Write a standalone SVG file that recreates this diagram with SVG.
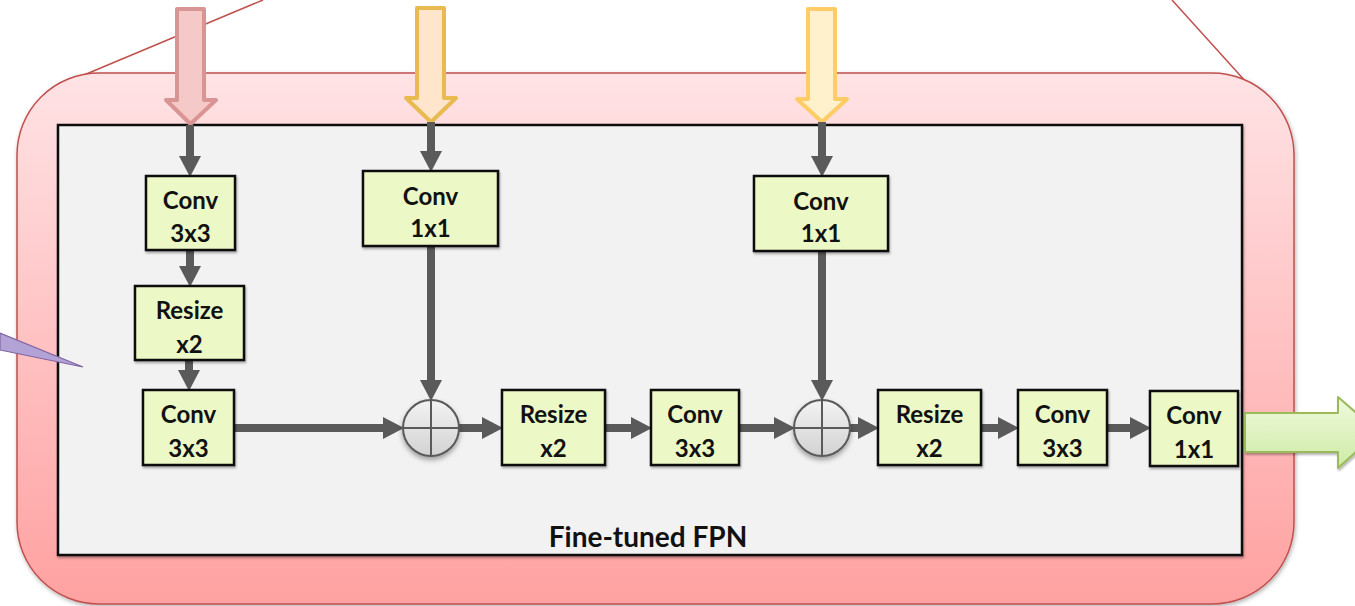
<svg xmlns="http://www.w3.org/2000/svg" width="1355" height="606" viewBox="0 0 1355 606">
<defs>
<style>
.box{fill:#ECF8C6;stroke:#111;stroke-width:2.5;filter:url(#sh)}
.lbl{font-family:Lato,"Open Sans","Liberation Sans",sans-serif;font-weight:bold;font-size:24px;fill:#111;text-anchor:middle}
.con{stroke:#5A5A5A;stroke-width:8;fill:none;marker-end:url(#ah)}
.sum{fill:url(#gsum);stroke:#5A5A5A;stroke-width:2;filter:url(#sh2)}
.cross{stroke:#5A5A5A;stroke-width:2}
</style>
<linearGradient id="gpink" x1="0" y1="0" x2="0" y2="1">
<stop offset="0" stop-color="#FFE3E5"/>
<stop offset="1" stop-color="#FFA1A1"/>
</linearGradient>
<linearGradient id="gsum" x1="0" y1="0" x2="0" y2="1">
<stop offset="0" stop-color="#F3F3F3"/>
<stop offset="1" stop-color="#D2D2D2"/>
</linearGradient>
<linearGradient id="ggreen" x1="0" y1="0" x2="0" y2="1">
<stop offset="0" stop-color="#F0FADD"/>
<stop offset="1" stop-color="#CDEBA6"/>
</linearGradient>
<filter id="sh" x="-10%" y="-10%" width="130%" height="130%">
<feDropShadow dx="1" dy="2" stdDeviation="1.2" flood-color="#000" flood-opacity="0.3"/>
</filter>
<filter id="sh2" x="-30%" y="-30%" width="160%" height="170%">
<feDropShadow dx="0" dy="3" stdDeviation="2.5" flood-color="#000" flood-opacity="0.35"/>
</filter>
<filter id="sh3" x="-5%" y="-5%" width="110%" height="110%">
<feDropShadow dx="1" dy="2" stdDeviation="2" flood-color="#000" flood-opacity="0.3"/>
</filter>
<marker id="ah" markerUnits="userSpaceOnUse" markerWidth="22" markerHeight="24" refX="10" refY="12" orient="auto">
<path d="M0,1 L21,12 L0,23 z" fill="#5A5A5A"/>
</marker>
</defs>

<g id="callout-lines">
<line x1="72" y1="80" x2="263" y2="0" stroke="#C0504D" stroke-width="1.5"/>
<line x1="1172" y1="0" x2="1247" y2="83" stroke="#C0504D" stroke-width="1.5"/>
</g>

<g id="outer">
<rect x="17" y="73" width="1277" height="531" rx="82" ry="82" fill="url(#gpink)" stroke="#C0504D" stroke-width="1.5" filter="url(#sh3)"/>
</g>

<g id="fpn-frame">
<rect x="58" y="125" width="1184" height="430" fill="#F2F2F2" stroke="#111" stroke-width="2.5" filter="url(#sh)"/>
<text class="lbl" x="648" y="547" style="font-size:28px">Fine-tuned FPN</text>
</g>

<g id="inputs">
<path d="M177,9 H204 V100 H216 L190.5,124 L166,100 H177 Z" fill="#F6C9C9" stroke="#D99594" stroke-width="4" stroke-linejoin="round"/>
<path d="M417,8 H444 V98 H456 L431,122 L406,98 H417 Z" fill="#FFE5CC" stroke="#E9BA50" stroke-width="4" stroke-linejoin="round"/>
<path d="M808,9 H835 V99 H847 L822,122 L797,99 H808 Z" fill="#FFF1CC" stroke="#FFCC66" stroke-width="4" stroke-linejoin="round"/>
</g>

<g id="connectors">
<line class="con" x1="190" y1="125" x2="190" y2="166"/>
<line class="con" x1="190" y1="250" x2="190" y2="276"/>
<line class="con" x1="189" y1="360" x2="189" y2="380"/>
<line class="con" x1="234" y1="428" x2="393" y2="428"/>
<line class="con" x1="431" y1="122" x2="431" y2="161"/>
<line class="con" x1="431" y1="246" x2="431" y2="390"/>
<line class="con" x1="459" y1="428" x2="492" y2="428"/>
<line class="con" x1="605" y1="428" x2="641" y2="428"/>
<line class="con" x1="739" y1="428" x2="784" y2="428"/>
<line class="con" x1="822" y1="122" x2="822" y2="166"/>
<line class="con" x1="822" y1="251" x2="822" y2="390"/>
<line class="con" x1="850" y1="428" x2="868" y2="428"/>
<line class="con" x1="981" y1="428" x2="1008" y2="428"/>
<line class="con" x1="1107" y1="428" x2="1140" y2="428"/>
</g>

<g id="sum1">
<circle class="sum" cx="431" cy="428" r="28"/>
<line class="cross" x1="403" y1="428" x2="459" y2="428"/>
<line class="cross" x1="431" y1="400" x2="431" y2="456"/>
</g>
<g id="sum2">
<circle class="sum" cx="822" cy="428" r="28"/>
<line class="cross" x1="794" y1="428" x2="850" y2="428"/>
<line class="cross" x1="822" y1="400" x2="822" y2="456"/>
</g>

<g id="conv3x3-a"><rect class="box" x="146" y="176" width="89" height="74"/><text class="lbl" x="190.5" y="209">Conv</text><text class="lbl" x="190.5" y="242">3x3</text></g>
<g id="resize-a"><rect class="box" x="135" y="286" width="109" height="74"/><text class="lbl" x="189.5" y="319">Resize</text><text class="lbl" x="189.5" y="353">x2</text></g>
<g id="conv3x3-b"><rect class="box" x="143" y="390" width="91" height="75"/><text class="lbl" x="188.5" y="423">Conv</text><text class="lbl" x="188.5" y="457">3x3</text></g>
<g id="conv1x1-a"><rect class="box" x="363" y="171" width="135" height="75"/><text class="lbl" x="430.5" y="205">Conv</text><text class="lbl" x="430.5" y="237">1x1</text></g>
<g id="conv1x1-b"><rect class="box" x="754" y="176" width="134" height="75"/><text class="lbl" x="821" y="210">Conv</text><text class="lbl" x="821" y="242">1x1</text></g>
<g id="resize-b"><rect class="box" x="502" y="390" width="103" height="75"/><text class="lbl" x="553.5" y="423">Resize</text><text class="lbl" x="553.5" y="457">x2</text></g>
<g id="conv3x3-c"><rect class="box" x="651" y="390" width="88" height="75"/><text class="lbl" x="695" y="423">Conv</text><text class="lbl" x="695" y="457">3x3</text></g>
<g id="resize-c"><rect class="box" x="878" y="390" width="103" height="75"/><text class="lbl" x="929.5" y="423">Resize</text><text class="lbl" x="929.5" y="457">x2</text></g>
<g id="conv3x3-d"><rect class="box" x="1018" y="390" width="89" height="75"/><text class="lbl" x="1062.5" y="423">Conv</text><text class="lbl" x="1062.5" y="457">3x3</text></g>
<g id="conv1x1-c"><rect class="box" x="1150" y="391" width="88" height="75"/><text class="lbl" x="1194" y="424">Conv</text><text class="lbl" x="1194" y="458">1x1</text></g>

<g id="output">
<path d="M1245,413 H1338 V397 L1378,432 L1338,468 V452 H1245 Z" fill="url(#ggreen)" stroke="#9BBB59" stroke-width="2" stroke-linejoin="round" filter="url(#sh)"/>
</g>

<g id="callout-pointer">
<polygon points="0,333 83,367 0,350" fill="#B3A2D6" stroke="#8064A2" stroke-width="1.2"/>
</g>
</svg>
